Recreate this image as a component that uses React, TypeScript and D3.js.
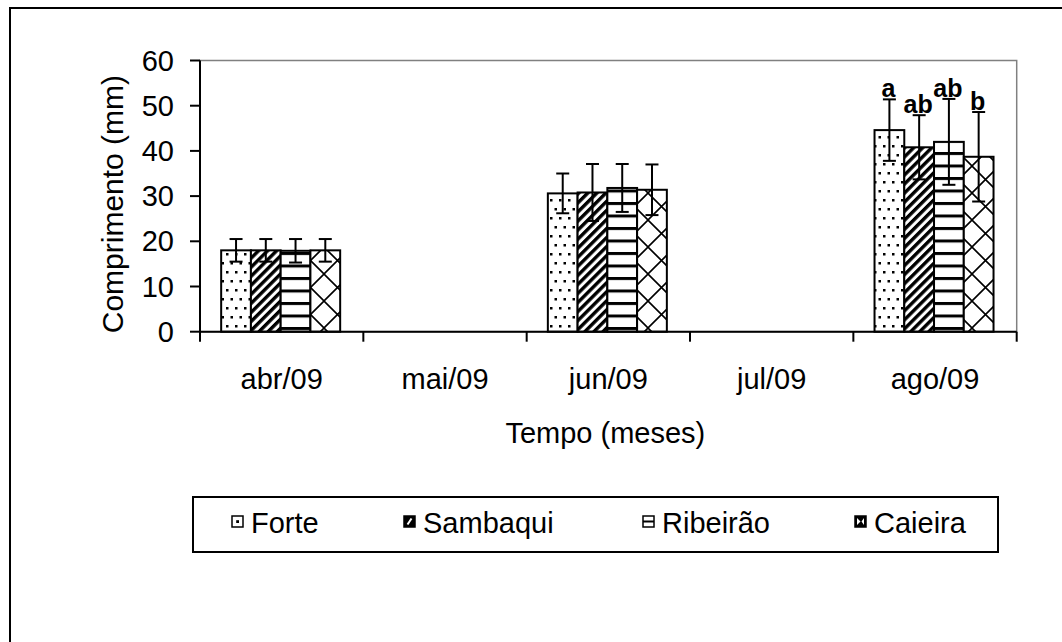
import React from 'react';
import * as d3 from 'd3';

// Monthly length of the samples per site (mean and standard deviation, mm)
const months = ['abr/09', 'mai/09', 'jun/09', 'jul/09', 'ago/09'];
const sites = ['Forte', 'Sambaqui', 'Ribeirão', 'Caieira'];

const forteMean = [18.0, null, 30.6, null, 44.6];
const forteErr = [2.5, null, 4.4, null, 6.8];
const sambaquiMean = [18.0, null, 30.8, null, 40.8];
const sambaquiErr = [2.5, null, 6.3, null, 7.1];
const ribeiraoMean = [17.9, null, 31.8, null, 42.0];
const ribeiraoErr = [2.6, null, 5.3, null, 9.5];
const caieiraMean = [18.0, null, 31.4, null, 38.7];
const caieiraErr = [2.5, null, 5.6, null, 9.9];

// Significance letters for the last month (ago/09)
const agoLetters = ['a', 'ab', 'ab', 'b'];

const yTicks = [0, 10, 20, 30, 40, 50, 60];

const means = [forteMean, sambaquiMean, ribeiraoMean, caieiraMean];
const errs = [forteErr, sambaquiErr, ribeiraoErr, caieiraErr];
const patternIds = ['pForte', 'pSambaqui', 'pRibeirao', 'pCaieira'];

const FONT = "'Liberation Sans', Arial, sans-serif";

export default function App() {
  const left = 200;
  const right = 1016.7;
  const top = 60.5;
  const bottom = 331.7;

  const x = d3.scaleBand<string>().domain(months).range([left, right]).padding(0);
  const bw = x.bandwidth();
  const groupW = 119;
  const xs = d3
    .scaleBand<string>()
    .domain(sites)
    .range([(bw - groupW) / 2 - 1, (bw + groupW) / 2 - 1])
    .padding(0);
  const y = d3.scaleLinear().domain([0, 60]).range([bottom, top]);

  const bars: any[] = [];
  sites.forEach((s, si) => {
    months.forEach((m, mi) => {
      const v = means[si][mi];
      if (v == null) return;
      bars.push({ s, si, m, mi, v, e: errs[si][mi] });
    });
  });

  const lastMonth = months[months.length - 1];
  const legendX = [232, 404, 643, 855];
  const swY = 516;
  const sw = 11;

  return (
    <svg
      width={1062}
      height={642}
      style={{ position: 'absolute', left: 0, top: 0, background: '#fff' }}
      fontFamily={FONT}
    >
      <defs>
        {/* dotted */}
        <pattern id="pForte" patternUnits="userSpaceOnUse" width={9} height={18}>
          <rect width={9} height={18} fill="#fff" />
          <rect x={1} y={1} width={2.5} height={2.5} fill="#000" />
          <rect x={5.5} y={10} width={2.5} height={2.5} fill="#000" />
        </pattern>
        {/* wide upward diagonal */}
        <pattern
          id="pSambaqui"
          patternUnits="userSpaceOnUse"
          width={6.4}
          height={6.4}
          patternTransform="rotate(45)"
        >
          <rect width={6.4} height={6.4} fill="#fff" />
          <rect x={0} y={0} width={3.4} height={6.4} fill="#000" />
        </pattern>
        {/* horizontal lines */}
        <pattern id="pRibeirao" patternUnits="userSpaceOnUse" width={10} height={12.5} y={2}>
          <rect width={10} height={12.5} fill="#fff" />
          <rect x={0} y={0} width={10} height={3} fill="#000" />
        </pattern>
        {/* diagonal lattice */}
        <pattern id="pCaieira" patternUnits="userSpaceOnUse" width={27} height={27} x={0} y={4}>
          <rect width={27} height={27} fill="#fff" />
          <path d="M0,0L27,27M27,0L0,27M-13.5,13.5L0,27M13.5,-13.5L-13.5,13.5M13.5,40.5L40.5,13.5M27,0L40.5,13.5M13.5,-13.5L27,0"
            stroke="#000" strokeWidth={1.6} fill="none" />
        </pattern>

        {/* legend swatches */}
        <pattern id="lForte" patternUnits="userSpaceOnUse" x={legendX[0]} y={swY} width={sw} height={sw}>
          <rect width={sw} height={sw} fill="#fff" />
          <rect x={4.2} y={4.2} width={2.8} height={2.8} fill="#000" />
        </pattern>
        <pattern id="lSambaqui" patternUnits="userSpaceOnUse" x={legendX[1]} y={swY} width={sw} height={sw}>
          <rect width={sw} height={sw} fill="#000" />
          <path d="M3.5,8.5L7.5,2.5" stroke="#fff" strokeWidth={2} />
        </pattern>
        <pattern id="lRibeirao" patternUnits="userSpaceOnUse" x={legendX[2]} y={swY} width={sw} height={sw}>
          <rect width={sw} height={sw} fill="#fff" />
          <rect x={0} y={4.5} width={sw} height={2} fill="#000" />
        </pattern>
        <pattern id="lCaieira" patternUnits="userSpaceOnUse" x={legendX[3]} y={swY} width={sw} height={sw}>
          <rect width={sw} height={sw} fill="#000" />
          <path d="M2,2L5.5,5.5L2,9Z" fill="#fff" />
          <path d="M9,2L6.5,5.5L9,9Z" fill="#fff" />
        </pattern>
      </defs>

      {/* outer chart frame (only its top and left edges fall inside the page) */}
      <rect x={10} y={8} width={1100} height={700} fill="none" stroke="#000" strokeWidth={2} />

      {/* plot area frame */}
      <rect
        x={left}
        y={top}
        width={right - left}
        height={bottom - top}
        fill="#fff"
        stroke="#808080"
        strokeWidth={1.5}
      />

      {/* bars */}
      {bars.map((b) => {
        const bx = (x(b.m) as number) + (xs(b.s) as number);
        return (
          <rect
            key={`bar-${b.si}-${b.mi}`}
            x={bx}
            y={y(b.v)}
            width={xs.bandwidth()}
            height={y(0) - y(b.v)}
            fill={`url(#${patternIds[b.si]})`}
            stroke="#000"
            strokeWidth={2}
          />
        );
      })}

      {/* error bars */}
      {bars.map((b) => {
        const cx = (x(b.m) as number) + (xs(b.s) as number) + xs.bandwidth() / 2;
        const y1 = y(b.v + b.e);
        const y0 = y(b.v - b.e);
        return (
          <g key={`err-${b.si}-${b.mi}`} stroke="#000" strokeWidth={2}>
            <line x1={cx} x2={cx} y1={y0} y2={y1} />
            <line x1={cx - 6.5} x2={cx + 6.5} y1={y1} y2={y1} />
            <line x1={cx - 6.5} x2={cx + 6.5} y1={y0} y2={y0} />
          </g>
        );
      })}

      {/* significance letters */}
      {sites.map((s, si) => {
        const mi = months.length - 1;
        const v = means[si][mi] as number;
        const e = errs[si][mi] as number;
        const cx = (x(lastMonth) as number) + (xs(s) as number) + xs.bandwidth() / 2;
        return (
          <text
            key={`let-${si}`}
            x={cx - 1}
            y={y(v + e) - 2}
            textAnchor="middle"
            fontSize={25}
            fontWeight="bold"
            fill="#000"
          >
            {agoLetters[si]}
          </text>
        );
      })}

      {/* y axis */}
      <line x1={left} x2={left} y1={top} y2={bottom} stroke="#000" strokeWidth={2} />
      {yTicks.map((t) => (
        <g key={`yt-${t}`}>
          <line x1={left - 10} x2={left} y1={y(t)} y2={y(t)} stroke="#000" strokeWidth={2} />
          <text
            x={left - 26}
            y={y(t)}
            dy="0.35em"
            textAnchor="end"
            fontSize={29}
            fill="#000"
          >
            {t}
          </text>
        </g>
      ))}

      {/* x axis */}
      <line x1={left} x2={right} y1={bottom} y2={bottom} stroke="#000" strokeWidth={2} />
      {[...months.map((m) => x(m) as number), right].map((tx, i) => (
        <line key={`xt-${i}`} x1={tx} x2={tx} y1={bottom} y2={bottom + 10} stroke="#000" strokeWidth={2} />
      ))}
      {months.map((m) => (
        <text
          key={`xl-${m}`}
          x={(x(m) as number) + bw / 2}
          y={389}
          textAnchor="middle"
          fontSize={29}
          fill="#000"
        >
          {m}
        </text>
      ))}

      {/* axis titles */}
      <text x={(left + right) / 2 - 3} y={443} textAnchor="middle" fontSize={29} fill="#000">
        Tempo (meses)
      </text>
      <text
        transform={`translate(123,${(top + bottom) / 2 + 8}) rotate(-90)`}
        textAnchor="middle"
        fontSize={30}
        fill="#000"
      >
        Comprimento (mm)
      </text>

      {/* legend */}
      <rect x={193} y={497} width={805} height={55} fill="#fff" stroke="#000" strokeWidth={2} />
      {sites.map((s, si) => (
        <g key={`lg-${s}`}>
          <rect
            x={legendX[si]}
            y={swY}
            width={sw}
            height={sw}
            fill={`url(#${['lForte', 'lSambaqui', 'lRibeirao', 'lCaieira'][si]})`}
            stroke="#000"
            strokeWidth={1.5}
          />
          <text x={legendX[si] + 19} y={533} fontSize={29} fill="#000">
            {s}
          </text>
        </g>
      ))}
    </svg>
  );
}
